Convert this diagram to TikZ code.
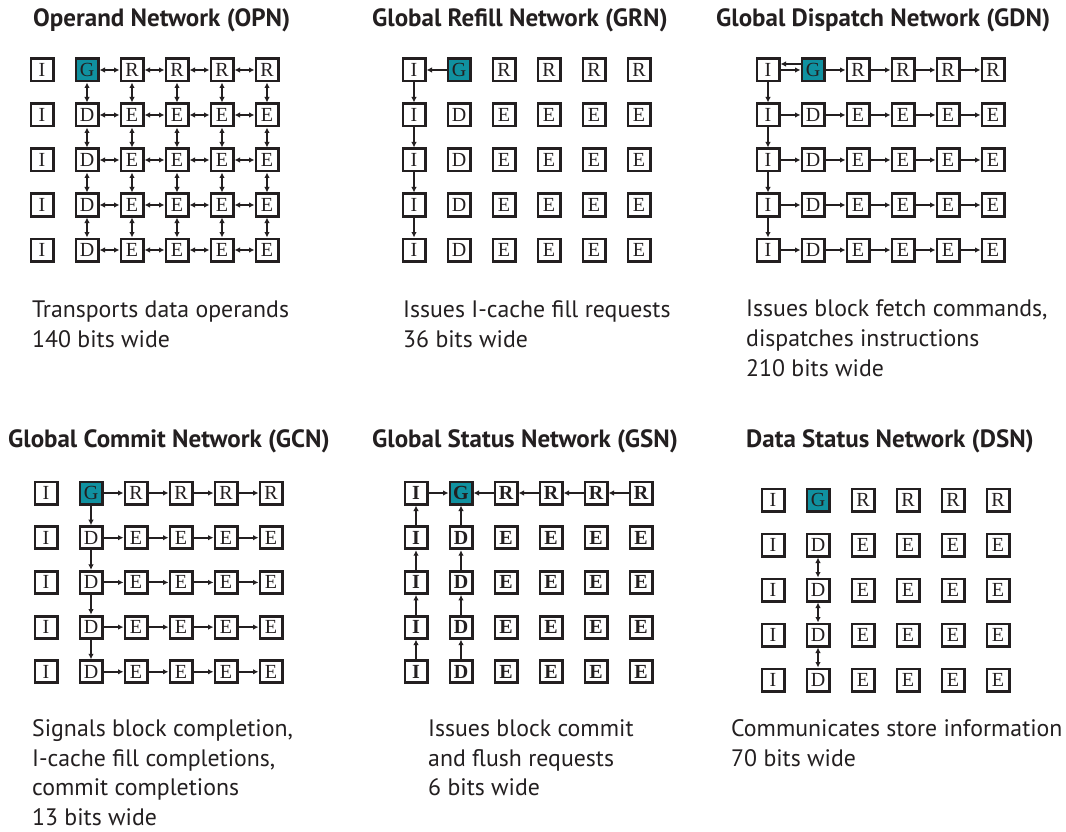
\documentclass[tikz,border=0pt]{standalone}
\usepackage{fontspec}
\setmainfont{PT Sans}
\newfontfamily\cellfont{Liberation Serif}
\usetikzlibrary{arrows.meta}

\definecolor{ink}{RGB}{35,31,32}
\definecolor{gfill}{RGB}{16,145,160}

\tikzset{
  cell/.style={draw=ink, line width=2.9pt, minimum size=22.1pt, inner sep=0pt,
    fill=white, text=ink, font=\cellfont\fontsize{20}{20}\selectfont},
  cI/.style={}, cR/.style={},
  cG/.style={fill=gfill},
  boldcell/.style={font=\cellfont\bfseries\fontsize{20}{20}\selectfont},
  plaincell/.style={},
  tip/.tip={Latex[length=5.5pt,width=5.5pt]},
  link/.style={draw=ink, line width=2pt, -tip},
  blink/.style={draw=ink, line width=2pt, tip-tip},
  title/.style={anchor=base west, inner sep=0pt, text=ink,
    font=\bfseries\fontsize{25}{29}\selectfont},
  % multi-line captions are placed by the baseline of their last line
  caption/.style={anchor=base west, inner sep=0pt, align=left, text=ink,
    font=\fontsize{23.8}{29.6}\selectfont},
}

% 5 x 6 tile array: name, x of first column, y of first row, row pitch, extra cell style
\newcommand\tilegrid[5]{%
  \foreach \c/\l in {1/I,2/G,3/R,4/R,5/R,6/R}
    \node[cell,c\l,#5] (#1-1-\c) at ({#2+45*(\c-1)},#3) {\l};
  \foreach \r in {2,...,5}
    \foreach \c/\l in {1/I,2/D,3/E,4/E,5/E,6/E}
      \node[cell,#5] (#1-\r-\c) at ({#2+45*(\c-1)},{#3+#4*(\r-1)}) {\l};
}

\begin{document}
\begin{tikzpicture}[x=1pt,y=-1pt]
\fill[white] (0,0) rectangle (1066,832);
\useasboundingbox (0,0) rectangle (1066,832);

% ---------- Operand Network ----------
\node[title] (t-opn) at (33,27) {Operand Network (OPN)};
\tilegrid{opn}{42}{70}{45}{plaincell}
\foreach \r in {1,...,5}
  \foreach \c/\n in {2/3,3/4,4/5,5/6}
    \draw[blink] (opn-\r-\c) -- (opn-\r-\n);
\foreach \r/\s in {1/2,2/3,3/4,4/5}
  \foreach \c in {2,...,6}
    \draw[blink] (opn-\r-\c) -- (opn-\s-\c);
\node[caption] (c-opn) at (32,347) {Transports data operands\\140 bits wide};

% ---------- Global Refill Network ----------
\node[title] (t-grn) at (372,27) {Global Refill Network (GRN)};
\tilegrid{grn}{414}{70}{45}{plaincell}
\draw[link] (grn-1-2) -- (grn-1-1);
\foreach \r/\s in {1/2,2/3,3/4,4/5}
  \draw[link] (grn-\r-1) -- (grn-\s-1);
\node[caption] (c-grn) at (403,347) {Issues I-cache fill requests\\36 bits wide};

% ---------- Global Dispatch Network ----------
\node[title] (t-gdn) at (716,27) {Global Dispatch Network (GDN)};
\tilegrid{gdn}{768}{70}{45}{plaincell}
\draw[link] ([yshift=6pt]gdn-1-2.west) -- ([yshift=6pt]gdn-1-1.east);
\draw[link] (gdn-1-1) -- (gdn-1-2);
\foreach \c/\n in {2/3,3/4,4/5,5/6}
  \draw[link] (gdn-1-\c) -- (gdn-1-\n);
\foreach \r in {2,...,5}
  \foreach \c/\n in {1/2,2/3,3/4,4/5,5/6}
    \draw[link] (gdn-\r-\c) -- (gdn-\r-\n);
\foreach \r/\s in {1/2,2/3,3/4,4/5}
  \draw[link] (gdn-\r-1) -- (gdn-\s-1);
\node[caption] (c-gdn) at (746,376)
  {Issues block fetch commands,\\dispatches instructions\\210 bits wide};

% ---------- Global Commit Network ----------
\node[title] (t-gcn) at (8,447) {Global Commit Network (GCN)};
\tilegrid{gcn}{46}{493}{44.7}{plaincell}
\foreach \r in {1,...,5}
  \foreach \c/\n in {2/3,3/4,4/5,5/6}
    \draw[link] (gcn-\r-\c) -- (gcn-\r-\n);
\foreach \r/\s in {1/2,2/3,3/4,4/5}
  \draw[link] (gcn-\r-2) -- (gcn-\s-2);
\node[caption] (c-gcn) at (32,825.5)
  {Signals block completion,\\I-cache fill completions,\\commit completions\\13 bits wide};

% ---------- Global Status Network ----------
\node[title] (t-gsn) at (372,447) {Global Status Network (GSN)};
\tilegrid{gsn}{416}{493}{44.7}{boldcell}
\draw[link] (gsn-1-1) -- (gsn-1-2);
\foreach \c/\n in {2/3,3/4,4/5,5/6}
  \draw[link] (gsn-1-\n) -- (gsn-1-\c);
\foreach \r/\s in {1/2,2/3,3/4,4/5} {
  \draw[link] (gsn-\s-1) -- (gsn-\r-1);
  \draw[link] (gsn-\s-2) -- (gsn-\r-2);
}
\node[caption] (c-gsn) at (428,795.8)
  {Issues block commit\\and flush requests\\6 bits wide};

% ---------- Data Status Network ----------
\node[title] (t-dsn) at (746,447) {Data Status Network (DSN)};
\tilegrid{dsn}{773}{500}{45}{plaincell}
\foreach \r/\s in {2/3,3/4,4/5}
  \draw[blink] (dsn-\r-2) -- (dsn-\s-2);
\node[caption] (c-dsn) at (731,766)
  {Communicates store information\\70 bits wide};
\end{tikzpicture}
\end{document}
